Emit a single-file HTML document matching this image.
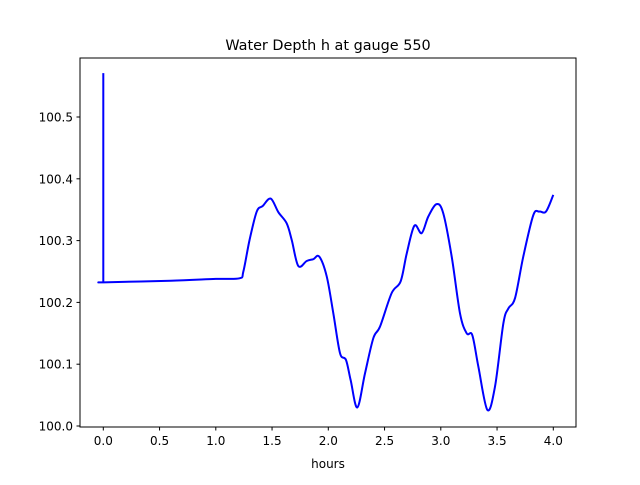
<!DOCTYPE html>
<html><head><meta charset="utf-8"><style>
body{margin:0;background:#fff;}
svg text{font-family:"DejaVu Sans","Liberation Sans",sans-serif;}
</style></head><body>
<svg id="chart" width="640" height="480" xmlns="http://www.w3.org/2000/svg">
<rect width="640" height="480" fill="#fff"/>
<text x="328" y="50" font-size="14.4" text-anchor="middle">Water Depth h at gauge 550</text>
<text x="328" y="468" font-size="12" text-anchor="middle">hours</text>
<g id="ticks"></g>
<path id="line" fill="none" stroke="#0000ff" stroke-width="2" stroke-linejoin="round"/>
<rect x="80" y="58" width="496" height="369" fill="none" stroke="#000" stroke-width="1"/>
</svg>
<script>
const hours=[0,0,0.0,0.6,1.0,1.21,1.245,1.30,1.364,1.417,1.488,1.556,1.63,1.675,1.733,1.808,1.867,1.92,1.986,2.045,2.104,2.157,2.199,2.258,2.326,2.4,2.46,2.563,2.643,2.697,2.765,2.83,2.889,2.963,3.022,3.097,3.171,3.23,3.28,3.334,3.414,3.482,3.556,3.6,3.66,3.733,3.822,3.876,3.935,4.0];
const depth=[100.571,100.2325,100.2325,100.235,100.238,100.239,100.250,100.301,100.347,100.356,100.368,100.346,100.328,100.301,100.259,100.267,100.270,100.274,100.242,100.182,100.118,100.107,100.074,100.030,100.085,100.142,100.161,100.215,100.234,100.279,100.324,100.312,100.339,100.359,100.344,100.274,100.182,100.150,100.147,100.096,100.026,100.064,100.166,100.190,100.207,100.274,100.341,100.347,100.347,100.374];
const xTicks=[0,0.5,1,1.5,2,2.5,3,3.5,4];
const xTickLabels=["0.0","0.5","1.0","1.5","2.0","2.5","3.0","3.5","4.0"];
const yTicks=[100.0,100.1,100.2,100.3,100.4,100.5];
const yTickLabels=["100.0","100.1","100.2","100.3","100.4","100.5"];
const X=h=>103.3+h*112.5;
const Y=v=>426-(v-100)*618;
const NS="http://www.w3.org/2000/svg";
const g=document.getElementById('ticks');
function mk(t,a){const e=document.createElementNS(NS,t);for(const k in a)e.setAttribute(k,a[k]);return e;}
xTicks.forEach((t,i)=>{
 const l=mk('line',{x1:X(t),x2:X(t),y1:427,y2:430.5,stroke:'#000'});
 
 
 g.appendChild(l);
 const s=mk('text',{x:X(t),y:445,'font-size':12,'text-anchor':'middle'});
 
 
 s.textContent=xTickLabels[i];g.appendChild(s);
});
yTicks.forEach((t,i)=>{
 const l=mk('line',{x1:76.5,x2:80,y1:Y(t),y2:Y(t),stroke:'#000'});
 
 
 g.appendChild(l);
 const s=mk('text',{x:73,y:Y(t)+4.5,'font-size':12,'text-anchor':'end'});
 
 
 s.textContent=yTickLabels[i];g.appendChild(s);
});
const pts=hours.map((h,i)=>[X(h),Y(depth[i])]);
let d='M'+pts[0][0]+','+pts[0][1]+' L'+pts[1][0]+','+pts[1][1];
for(let i=1;i<pts.length-1;i++){
 const p0=pts[Math.max(i-1,1)],p1=pts[i],p2=pts[i+1],p3=pts[Math.min(i+2,pts.length-1)];
 const c1=[p1[0]+(p2[0]-p0[0])/6,p1[1]+(p2[1]-p0[1])/6];
 const c2=[p2[0]-(p3[0]-p1[0])/6,p2[1]-(p3[1]-p1[1])/6];
 d+=' C'+c1+' '+c2+' '+p2;
}
document.getElementById('line').setAttribute('d',d);
</script>
</body></html>
